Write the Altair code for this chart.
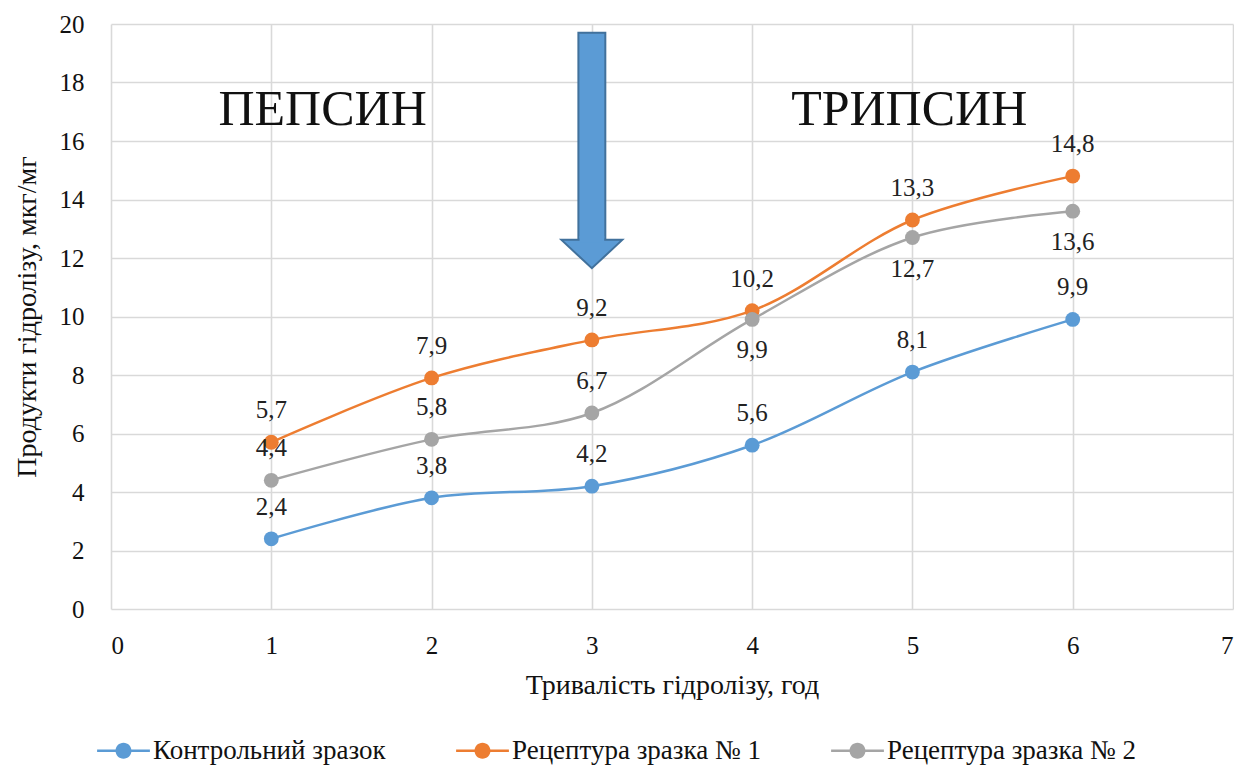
import altair as alt
import pandas as pd

hours = [1, 2, 3, 4, 5, 6]
series_names = ["Контрольний зразок", "Рецептура зразка № 1", "Рецептура зразка № 2"]
control = [2.4, 3.8, 4.2, 5.6, 8.1, 9.9]
recipe1 = [5.7, 7.9, 9.2, 10.2, 13.3, 14.8]
recipe2 = [4.4, 5.8, 6.7, 9.9, 12.7, 13.6]
label_side_control = ["above"] * 6
label_side_recipe1 = ["above"] * 6
label_side_recipe2 = ["above", "above", "above", "below", "below", "below"]
colors = ["#5B9BD5", "#ED7D31", "#A5A5A5"]

# annotation texts (data coordinates)
ann_text = ["ПЕПСИН", "ТРИПСИН"]
ann_x = [1.32, 4.98]
ann_y = [17.05, 17.05]

# arrow (data coordinates): shaft and head
shaft_x = [2.916]
shaft_x2 = [3.084]
shaft_y = [19.7]
shaft_y2 = [12.62]
head_y = [12.62, 11.65]
head_x = [2.81, 3.0]
head_x2 = [3.19, 3.0]
patch_x = [2.923]
patch_x2 = [3.077]
patch_y = [12.75]
patch_y2 = [12.52]

rows = []
for name, vals, sides in zip(series_names, [control, recipe1, recipe2],
                             [label_side_control, label_side_recipe1, label_side_recipe2]):
    for h, v, s in zip(hours, vals, sides):
        rows.append({"series": name, "hour": h, "value": v, "side": s,
                     "label": f"{v:.1f}".replace(".", ",")})
df = pd.DataFrame(rows)
ann = pd.DataFrame({"text": ann_text, "x": ann_x, "y": ann_y})
shaft = pd.DataFrame({"x": shaft_x, "x2": shaft_x2, "y": shaft_y, "y2": shaft_y2})
head = pd.DataFrame({"y": head_y, "x": head_x, "x2": head_x2})
patch = pd.DataFrame({"x": patch_x, "x2": patch_x2, "y": patch_y, "y2": patch_y2})

FONT = "Liberation Serif, Times New Roman, serif"
xscale = alt.Scale(domain=[0, 7], nice=False, zero=False)
yscale = alt.Scale(domain=[0, 20], nice=False)
cscale = alt.Scale(domain=series_names, range=colors)

x_enc = alt.X("hour:Q", scale=xscale,
              axis=alt.Axis(title="Тривалість гідролізу, год", values=list(range(0, 8)),
                            format="d"))
y_enc = alt.Y("value:Q", scale=yscale,
              axis=alt.Axis(title="Продукти гідролізу, мкг/мг", values=list(range(0, 21, 2)),
                            format="d"))

# legend symbol: filled circle with a thin bar through it (filled shapes only)
sym = ("M-3.3,-0.16L-0.95,-0.16L-0.95,0.16L-3.3,0.16Z"
       "M0.95,-0.16L3.3,-0.16L3.3,0.16L0.95,0.16Z"
       "M1,0A1,1,0,1,1,-1,0A1,1,0,1,1,1,0Z")
leg = alt.Legend(title=None, orient="none", direction="horizontal",
                 legendX=-1, legendY=713,
                 symbolType=sym, symbolSize=256,
                 labelFont=FONT, labelFontSize=27,
                 labelColor="#111", labelOffset=16, columnPadding=70,
                 labelLimit=500, padding=0)

base = alt.Chart(df)
line_layers = [
    base.transform_filter(alt.datum.series == name).mark_line(
        interpolate="catmull-rom", strokeWidth=2.5, color=col).encode(x=x_enc, y=y_enc)
    for name, col in zip(series_names, colors)
]
points = base.mark_circle(size=220, opacity=1).encode(
    x="hour:Q", y="value:Q",
    color=alt.Color("series:N", scale=cscale, legend=leg),
)
labels_above = base.transform_filter(alt.datum.side == "above").mark_text(
    font=FONT, fontSize=25, color="#222", dy=-32, baseline="middle").encode(
    x="hour:Q", y="value:Q", text="label:N")
labels_below = base.transform_filter(alt.datum.side == "below").mark_text(
    font=FONT, fontSize=25, color="#222", dy=31, baseline="middle").encode(
    x="hour:Q", y="value:Q", text="label:N")

shaft_mark = alt.Chart(shaft).mark_rect(color="#5B9BD5", stroke="#41719C", strokeWidth=2).encode(
    x=alt.X("x:Q", scale=xscale), x2="x2:Q", y=alt.Y("y:Q", scale=yscale), y2="y2:Q")
head_mark = alt.Chart(head).mark_area(orient="horizontal", color="#5B9BD5",
                                      stroke="#41719C", strokeWidth=2, opacity=1).encode(
    y=alt.Y("y:Q", scale=yscale), x=alt.X("x:Q", scale=xscale), x2="x2:Q")
patch_mark = alt.Chart(patch).mark_rect(color="#5B9BD5", strokeWidth=0).encode(
    x=alt.X("x:Q", scale=xscale), x2="x2:Q", y=alt.Y("y:Q", scale=yscale), y2="y2:Q")

ann_mark = alt.Chart(ann).mark_text(font=FONT, fontSize=50, color="#111", baseline="middle").encode(
    x=alt.X("x:Q", scale=xscale), y=alt.Y("y:Q", scale=yscale), text="text:N")

chart = alt.layer(ann_mark, *line_layers, shaft_mark, head_mark, patch_mark, points,
                  labels_above, labels_below).properties(
    width=1122, height=585,
    autosize=alt.AutoSizeParams(type="none"),
    padding={"left": 103, "top": 16, "right": 1, "bottom": 160},
).configure_view(strokeWidth=0).configure_axis(
    grid=True, gridColor="#D9D9D9", gridWidth=1.6, domain=False, ticks=False,
    labelFont=FONT, labelFontSize=25, labelColor="#111",
    titleFont=FONT, titleFontSize=28, titleColor="#111", titleFontWeight="normal",
).configure_axisX(labelPadding=24, titlePadding=13).configure_axisY(labelPadding=27, titlePadding=18)

chart.save("out.html", embed_options={"renderer": "svg", "actions": False})
